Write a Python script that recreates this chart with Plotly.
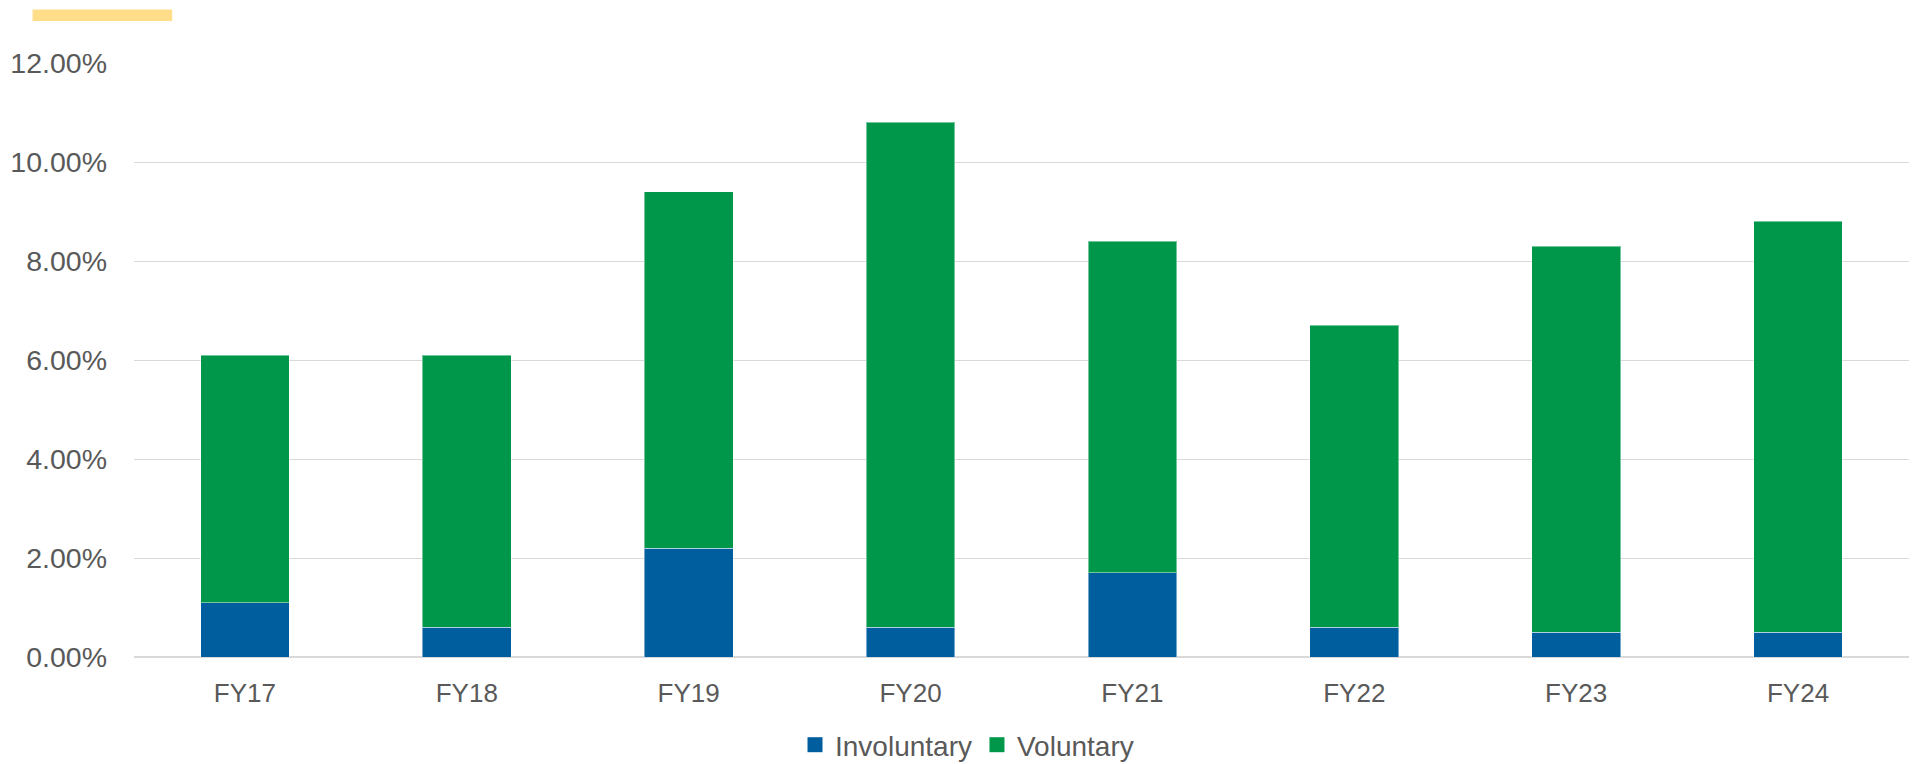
import plotly.graph_objects as go

# Fiscal years and turnover rates (fractions of headcount)
years = ["FY17", "FY18", "FY19", "FY20", "FY21", "FY22", "FY23", "FY24"]
involuntary = [0.011, 0.006, 0.022, 0.006, 0.017, 0.006, 0.005, 0.005]
voluntary = [0.050, 0.055, 0.072, 0.102, 0.067, 0.061, 0.078, 0.083]
series_names = ["Involuntary", "Voluntary"]

BLUE = "#005E9E"
GREEN = "#00974A"
GRID = "#D9D9D9"
TEXT = "#595959"
FONT = "Liberation Sans, Arial, sans-serif"

W, H = 1917, 764
ML, MR, MT, MB = 133.5, 7.5, 62.7, 107.3
plot_w = W - ML - MR
plot_h = H - MT - MB

fig = go.Figure()
for name, vals, col in zip(series_names, [involuntary, voluntary], [BLUE, GREEN]):
    fig.add_trace(go.Bar(
        name=name, x=years, y=vals, showlegend=False,
        marker=dict(color=col, line=dict(color="rgba(255,255,255,0.45)", width=1)),
    ))
    # legend-only entry with a larger square swatch
    fig.add_trace(go.Scatter(
        name=name, x=[None], y=[None], mode="markers",
        marker=dict(symbol="square", size=15, color=col),
    ))

def px_x(px):
    return (px - ML) / plot_w

def px_y(py):
    return (H - MB - py) / plot_h

# Accent bar above the axis
fig.add_shape(
    type="rect", xref="paper", yref="paper",
    x0=px_x(32), x1=px_x(171.7), y0=px_y(20.7), y1=px_y(9.3),
    fillcolor="#FFDD89", line=dict(width=0), layer="above",
)

fig.update_layout(
    width=W, height=H,
    margin=dict(l=ML, r=MR, t=MT, b=MB, pad=0, autoexpand=False),
    barmode="stack", bargap=0.6,
    plot_bgcolor="white", paper_bgcolor="white",
    font=dict(family=FONT, size=27, color=TEXT),
    legend=dict(
        orientation="h", xref="container", x=(968 - 1) / W, xanchor="center",
        yref="container", y=(H - 745) / H, yanchor="middle",
        font=dict(size=28, color=TEXT), itemwidth=30,
        traceorder="normal",
    ),
    xaxis=dict(
        showgrid=False, showline=False, ticks="",
        tickfont=dict(size=26, color=TEXT), ticklabelstandoff=18,
    ),
    yaxis=dict(
        range=[0, 0.12], dtick=0.02, tickformat=".2%",
        showgrid=True, gridcolor=GRID, gridwidth=1.3,
        zeroline=True, zerolinecolor=GRID, zerolinewidth=1.5,
        showline=False, ticks="",
        tickfont=dict(size=28.5, color=TEXT), ticklabelstandoff=26,
    ),
)

fig.write_html("out.html")
